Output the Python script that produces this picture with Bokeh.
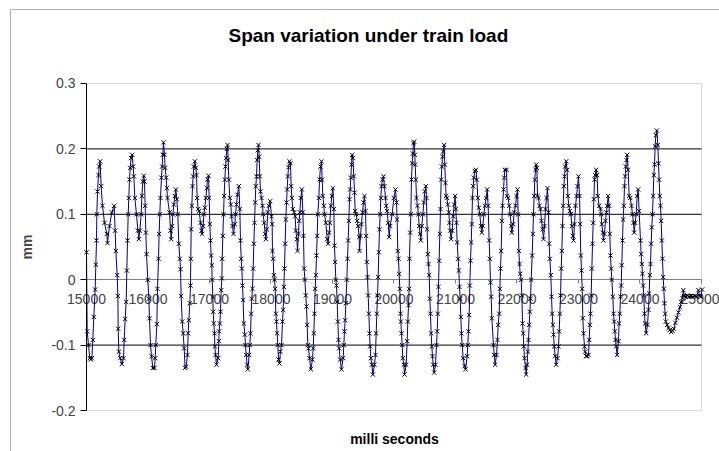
from bokeh.plotting import figure
from bokeh.models import Range1d, FixedTicker, CustomJSTickFormatter, Label, BoxAnnotation, ColumnDataSource
from bokeh.embed import file_html
from bokeh.resources import INLINE

# ---- data (time in ms, span variation in mm) ----
t_a = [15000, 15011, 15033, 15054, 15070, 15087, 15103, 15119, 15141, 15152, 15163, 15168, 15179, 15195, 15206, 15222,
       15238, 15260, 15293, 15331, 15341, 15374, 15412, 15450, 15466, 15477, 15499, 15510, 15515, 15526, 15548, 15575,
       15602, 15613, 15629, 15645, 15656, 15667, 15678, 15688, 15699, 15710, 15726, 15743, 15759, 15770, 15786, 15813,
       15835, 15851, 15867, 15889, 15900, 15916, 15932, 15943, 15954, 15965, 15976, 15997, 16014, 16024, 16041, 16057,
       16079, 16106, 16117, 16127, 16144, 16154, 16171, 16181, 16192, 16203, 16219, 16230, 16241, 16252, 16268, 16279,
       16295, 16306, 16317, 16350, 16366, 16377, 16393, 16404, 16420, 16436, 16453, 16469, 16485, 16501, 16518, 16529,
       16539, 16556, 16572, 16588, 16604]
v_a = [0.042, -0.079, -0.100, -0.120, -0.122, -0.120, -0.092, -0.057, -0.015, 0.023, 0.060, 0.100, 0.135, 0.160, 0.173, 0.181,
       0.143, 0.113, 0.087, 0.070, 0.056, 0.082, 0.103, 0.113, 0.075, 0.044, 0.007, -0.025, -0.075, -0.110, -0.120, -0.129,
       -0.120, -0.092, -0.060, -0.034, 0.014, 0.060, 0.100, 0.125, 0.153, 0.171, 0.186, 0.191, 0.173, 0.158, 0.125, 0.100,
       0.075, 0.062, 0.075, 0.100, 0.128, 0.150, 0.159, 0.150, 0.113, 0.072, 0.039, 0.000, -0.029, -0.059, -0.100, -0.117,
       -0.135, -0.135, -0.120, -0.100, -0.068, -0.014, 0.032, 0.070, 0.100, 0.125, 0.156, 0.173, 0.191, 0.210, 0.191, 0.171,
       0.156, 0.140, 0.125, 0.103, 0.075, 0.062, 0.082, 0.100, 0.115, 0.128, 0.138, 0.123, 0.100, 0.055, 0.032, 0.016,
       -0.025, -0.064, -0.082, -0.105, -0.135]

t_b = [16620, 16642, 16653, 16664, 16680, 16691, 16696, 16702, 16713, 16724, 16734, 16745, 16762, 16778, 16789, 16799,
       16816, 16832, 16854, 16870, 16881, 16897, 16908, 16924, 16940, 16957, 16967, 16984, 16995, 17005, 17016, 17027,
       17038, 17043, 17054, 17060, 17070, 17081, 17087, 17098, 17114, 17141, 17152, 17157, 17168, 17179, 17190, 17201,
       17206, 17217, 17228, 17238, 17249, 17260, 17271, 17282, 17293, 17304, 17314, 17331, 17347, 17358, 17374, 17390,
       17412, 17423, 17439, 17455, 17477, 17493, 17504, 17515, 17526, 17537, 17547, 17558, 17575, 17585, 17596, 17612,
       17623, 17645, 17656, 17667, 17677, 17688, 17699, 17710, 17721, 17732, 17743, 17753, 17764, 17775, 17786, 17797,
       17808, 17818, 17829, 17846, 17862, 17873, 17889, 17905, 17916, 17932, 17948, 17965, 17986, 18008, 18019, 18024,
       18035, 18046, 18057, 18068, 18079, 18089, 18100, 18111, 18122, 18138, 18154, 18171, 18187, 18198, 18209, 18219,
       18230, 18241, 18252, 18263, 18274, 18285]
v_b = [-0.133, -0.115, -0.082, -0.062, -0.036, -0.009, 0.032, 0.077, 0.113, 0.143, 0.158, 0.173, 0.181, 0.171, 0.160, 0.125,
       0.108, 0.105, 0.087, 0.075, 0.070, 0.082, 0.100, 0.110, 0.125, 0.140, 0.153, 0.159, 0.125, 0.085, 0.060, 0.037,
       0.022, 0.000, -0.026, -0.049, -0.067, -0.082, -0.102, -0.115, -0.130, -0.120, -0.094, -0.079, -0.067, -0.049, -0.016, 0.002,
       0.032, 0.067, 0.100, 0.128, 0.153, 0.173, 0.186, 0.200, 0.206, 0.183, 0.153, 0.125, 0.115, 0.097, 0.082, 0.070,
       0.085, 0.100, 0.115, 0.130, 0.143, 0.108, 0.060, 0.032, 0.017, -0.009, -0.031, -0.067, -0.084, -0.100, -0.115, -0.130,
       -0.137, -0.115, -0.100, -0.082, -0.052, -0.029, -0.014, 0.017, 0.055, 0.087, 0.118, 0.143, 0.158, 0.183, 0.198, 0.206,
       0.188, 0.158, 0.135, 0.125, 0.113, 0.100, 0.087, 0.070, 0.062, 0.077, 0.103, 0.113, 0.120, 0.097, 0.085, 0.044,
       0.032, 0.007, 0.000, -0.014, -0.052, -0.064, -0.082, -0.100, -0.122, -0.128, -0.110, -0.100, -0.064, -0.046, -0.011, 0.017,
       0.055, 0.092, 0.118, 0.138, 0.158, 0.172]

t_c = [18301, 18317, 18328, 18339, 18355, 18377, 18393, 18404, 18420, 18431, 18447, 18458, 18469, 18485, 18501, 18518,
       18528, 18539, 18550, 18566, 18577, 18588, 18599, 18610, 18626, 18648, 18675, 18686, 18696, 18707, 18718, 18729,
       18740, 18751, 18761, 18778, 18789, 18805, 18821, 18832, 18843, 18859, 18870, 18892, 18913, 18929, 18946, 18957,
       18973, 18989, 19005, 19022, 19032, 19043, 19054, 19065, 19076, 19087, 19097, 19108, 19125, 19146, 19173, 19184,
       19195, 19206, 19217, 19233, 19244, 19255, 19266, 19276, 19287, 19298, 19309, 19320, 19331, 19347, 19358, 19369,
       19385, 19401, 19417, 19434, 19439, 19455, 19471, 19488, 19504, 19520, 19537, 19547, 19558, 19569, 19580, 19591,
       19602, 19612, 19623, 19639, 19656, 19683, 19699, 19710, 19721, 19732, 19742, 19753, 19764, 19775, 19786, 19797,
       19813, 19829, 19845, 19862, 19873, 19889, 19905, 19921, 19938]
v_c = [0.181, 0.178, 0.143, 0.125, 0.108, 0.103, 0.097, 0.075, 0.062, 0.044, 0.070, 0.090, 0.103, 0.125, 0.138, 0.103,
       0.067, 0.017, 0.000, -0.024, -0.041, -0.069, -0.100, -0.105, -0.120, -0.137, -0.122, -0.105, -0.082, -0.052, -0.014, 0.007,
       0.037, 0.067, 0.100, 0.125, 0.153, 0.173, 0.181, 0.153, 0.128, 0.113, 0.100, 0.087, 0.062, 0.055, 0.072, 0.087,
       0.113, 0.128, 0.140, 0.108, 0.052, 0.027, 0.000, -0.009, -0.034, -0.064, -0.092, -0.105, -0.122, -0.137, -0.120, -0.100,
       -0.079, -0.062, -0.036, 0.000, 0.032, 0.060, 0.090, 0.123, 0.138, 0.156, 0.176, 0.191, 0.186, 0.158, 0.133, 0.105,
       0.100, 0.090, 0.082, 0.065, 0.044, 0.067, 0.085, 0.103, 0.118, 0.128, 0.105, 0.067, 0.027, 0.004, -0.024, -0.052,
       -0.082, -0.102, -0.120, -0.130, -0.145, -0.130, -0.115, -0.082, -0.052, -0.024, 0.004, 0.042, 0.077, 0.100, 0.125, 0.143,
       0.153, 0.158, 0.143, 0.125, 0.113, 0.105, 0.087, 0.065, 0.082]

t_d = [19970, 19997, 20024, 20041, 20051, 20062, 20073, 20084, 20095, 20106, 20111, 20122, 20133, 20144, 20160, 20171,
       20198, 20214, 20225, 20236, 20247, 20252, 20263, 20274, 20284, 20295, 20306, 20317, 20328, 20339, 20344, 20355,
       20366, 20382, 20398, 20409, 20425, 20436, 20452, 20469, 20485, 20501, 20518, 20528, 20539, 20550, 20561, 20572,
       20583, 20593, 20604, 20615, 20626, 20637, 20653, 20675, 20691, 20702, 20713, 20723, 20734, 20745, 20756, 20767,
       20778, 20789, 20799, 20816, 20826, 20837, 20848, 20859, 20875, 20892, 20902, 20913, 20929, 20946, 20962, 20978,
       20994, 21005, 21016, 21027, 21043, 21054, 21065, 21076, 21087, 21097, 21108, 21125, 21146, 21163, 21190, 21200,
       21211, 21222, 21233, 21244, 21255, 21265, 21276, 21287, 21298, 21314, 21331, 21347, 21363, 21379, 21396, 21412,
       21428, 21444, 21461, 21477, 21499, 21515, 21531, 21547, 21558, 21569, 21580, 21591]
v_d = [0.100, 0.125, 0.138, 0.118, 0.092, 0.044, 0.032, 0.009, -0.014, -0.052, -0.064, -0.082, -0.100, -0.120, -0.130, -0.145,
       -0.130, -0.094, -0.064, -0.039, -0.014, 0.032, 0.072, 0.100, 0.153, 0.178, 0.193, 0.209, 0.211, 0.191, 0.176, 0.153,
       0.125, 0.113, 0.100, 0.082, 0.070, 0.060, 0.082, 0.100, 0.118, 0.135, 0.143, 0.125, 0.077, 0.039, 0.024, 0.007,
       -0.029, -0.052, -0.082, -0.102, -0.117, -0.130, -0.142, -0.130, -0.100, -0.079, -0.052, -0.011, 0.029, 0.070, 0.108, 0.153,
       0.173, 0.188, 0.196, 0.206, 0.176, 0.148, 0.128, 0.125, 0.115, 0.103, 0.087, 0.075, 0.062, 0.075, 0.097, 0.115,
       0.128, 0.108, 0.087, 0.057, 0.032, 0.014, -0.011, -0.029, -0.057, -0.082, -0.100, -0.120, -0.132, -0.137, -0.117, -0.100,
       -0.079, -0.054, -0.009, 0.029, 0.057, 0.085, 0.125, 0.143, 0.156, 0.166, 0.168, 0.153, 0.125, 0.110, 0.100, 0.082,
       0.072, 0.082, 0.100, 0.113, 0.125, 0.138, 0.113, 0.060, 0.032, -0.004, -0.026, -0.059]

t_e = [21618, 21629, 21645, 21667, 21683, 21694, 21710, 21721, 21732, 21743, 21754, 21765, 21781, 21792, 21803, 21830,
       21840, 21857, 21873, 21889, 21906, 21916, 21938, 21954, 21976, 21992, 22008, 22019, 22030, 22041, 22052, 22068,
       22079, 22090, 22101, 22111, 22122, 22138, 22149, 22165, 22176, 22187, 22198, 22209, 22220, 22230, 22247, 22258,
       22268, 22279, 22290, 22301, 22312, 22323, 22334, 22350, 22366, 22382, 22398, 22415, 22431, 22447, 22463, 22480,
       22496, 22512, 22523, 22534, 22550, 22561, 22572, 22583, 22594, 22605, 22621, 22637, 22659, 22675, 22686, 22697,
       22708, 22719, 22729, 22740, 22751, 22762, 22773, 22783, 22800, 22816, 22827, 22843, 22859, 22876, 22892, 22908,
       22919, 22935, 22952, 22968, 22984, 23000, 23017, 23027, 23038, 23049, 23060, 23071, 23081, 23098, 23108, 23125,
       23141, 23163, 23174, 23185, 23195, 23206, 23217, 23228, 23239, 23250, 23260]
v_e = [-0.100, -0.115, -0.130, -0.115, -0.092, -0.069, -0.052, -0.014, 0.017, 0.044, 0.090, 0.113, 0.138, 0.156, 0.168, 0.168,
       0.128, 0.125, 0.113, 0.100, 0.082, 0.072, 0.085, 0.103, 0.113, 0.128, 0.138, 0.100, 0.044, 0.024, 0.009, 0.000,
       -0.024, -0.067, -0.082, -0.102, -0.120, -0.135, -0.145, -0.130, -0.110, -0.092, -0.069, -0.049, -0.029, 0.000, 0.037, 0.070,
       0.100, 0.128, 0.153, 0.168, 0.176, 0.171, 0.128, 0.125, 0.113, 0.108, 0.090, 0.077, 0.062, 0.082, 0.108, 0.125,
       0.140, 0.103, 0.055, 0.032, 0.007, -0.026, -0.052, -0.069, -0.084, -0.102, -0.117, -0.130, -0.120, -0.102, -0.079, -0.052,
       -0.024, 0.017, 0.044, 0.082, 0.113, 0.143, 0.158, 0.173, 0.181, 0.168, 0.128, 0.113, 0.105, 0.100, 0.082, 0.067,
       0.060, 0.085, 0.113, 0.128, 0.143, 0.158, 0.128, 0.085, 0.037, 0.014, -0.014, -0.059, -0.082, -0.102, -0.110, -0.117,
       -0.117, -0.115, -0.092, -0.069, -0.052, -0.024, 0.017, 0.055, 0.087, 0.123, 0.153]

t_f = [23271, 23287, 23303, 23314, 23336, 23358, 23368, 23379, 23396, 23406, 23423, 23439, 23455, 23466, 23482, 23498,
       23509, 23520, 23531, 23542, 23558, 23569, 23580, 23591, 23601, 23612, 23629, 23650, 23661, 23672, 23683, 23694,
       23704, 23715, 23726, 23737, 23748, 23759, 23769, 23780, 23791, 23807, 23824, 23840, 23862, 23878, 23894, 23905,
       23921, 23938, 23954, 23970, 23986, 24008, 24019, 24030, 24040, 24051, 24062, 24073, 24084, 24100, 24122, 24138,
       24149, 24160, 24171, 24181, 24192, 24203, 24214, 24225, 24236, 24246, 24257, 24274, 24290, 24301, 24311, 24322,
       24333, 24344, 24355, 24366, 24377, 24387, 24398, 24409, 24420, 24442, 24463, 24485, 24507, 24528, 24550, 24575,
       24600, 24625, 24650, 24670, 24690, 24705, 24720, 24745, 24770, 24800, 24830, 24860, 24890, 24920, 24950, 24970,
       24990, 25010]
v_f = [0.160, 0.168, 0.160, 0.128, 0.113, 0.108, 0.100, 0.085, 0.072, 0.060, 0.070, 0.090, 0.103, 0.113, 0.128, 0.113,
       0.070, 0.037, 0.017, 0.000, -0.026, -0.052, -0.064, -0.079, -0.092, -0.102, -0.115, -0.094, -0.067, -0.052, -0.026, -0.009,
       0.022, 0.060, 0.092, 0.113, 0.143, 0.158, 0.173, 0.183, 0.191, 0.168, 0.128, 0.125, 0.113, 0.100, 0.087, 0.072,
       0.087, 0.100, 0.128, 0.138, 0.105, 0.060, 0.039, 0.024, 0.009, -0.009, -0.024, -0.052, -0.067, -0.082, -0.069, -0.046,
       -0.021, 0.007, 0.024, 0.055, 0.080, 0.100, 0.128, 0.160, 0.176, 0.204, 0.221, 0.228, 0.206, 0.178, 0.153, 0.128,
       0.113, 0.090, 0.060, 0.032, 0.004, -0.014, -0.036, -0.052, -0.064, -0.069, -0.074, -0.077, -0.080, -0.078, -0.075, -0.066,
       -0.058, -0.050, -0.042, -0.034, -0.028, -0.016, -0.025, -0.026, -0.024, -0.026, -0.025, -0.026, -0.025, -0.026, -0.016, -0.025,
       -0.026, -0.015]

x_ticks = [15000, 16000, 17000, 18000, 19000, 20000, 21000, 22000, 23000, 24000, 25000]
y_ticks = [-0.2, -0.1, 0.0, 0.1, 0.2, 0.3]
x_lo, x_hi = 15000, 25000
y_lo, y_hi = -0.2, 0.3

time_ms = t_a + t_b + t_c + t_d + t_e + t_f
span_mm = v_a + v_b + v_c + v_d + v_e + v_f
src = ColumnDataSource(data=dict(t=time_ms, v=span_mm))

# inner grid lines (the outer ones are the plot-area border, 0 is the x axis)
grid_y = [y for y in y_ticks if y_lo < y < y_hi and y != 0]
grid_src = ColumnDataSource(data=dict(y=grid_y, x0=[x_lo] * len(grid_y), x1=[x_hi] * len(grid_y)))

FONT = "Liberation Sans"
W, H = 719, 451

# frame covers the whole canvas; ranges chosen so the plot area sits at x 86..701, y 83..410
p = figure(width=W, height=H, output_backend="svg", toolbar_location=None,
           x_range=Range1d(13601.63, 25292.69), y_range=Range1d(-0.26269, 0.42691),
           min_border_left=0, min_border_right=0, min_border_top=0, min_border_bottom=0,
           background_fill_color="white", border_fill_color="white")
p.title.visible = False
p.outline_line_color = None
p.xgrid.visible = False
p.ygrid.visible = False

# plot-area border (grey)
p.add_layout(BoxAnnotation(left=x_lo, right=x_hi, bottom=y_lo, top=y_hi, fill_alpha=0,
                           line_color="#808080", line_width=1, level="underlay"))
# chart-area border (left and top edges visible)
p.add_layout(BoxAnnotation(left=10, right=W + 40, top=H - 9, bottom=-40,
                           left_units="screen", right_units="screen", top_units="screen", bottom_units="screen",
                           fill_alpha=0, line_color="black", line_width=1))

p.segment(x0="x0", x1="x1", y0="y", y1="y", source=grid_src, line_color="black", line_width=1)

xa = p.xaxis[0]
xa.fixed_location = 0
xa.bounds = (x_lo, x_hi)
xa.level = "underlay"
xa.ticker = FixedTicker(ticks=x_ticks)
xa.formatter = CustomJSTickFormatter(code="return tick.toFixed(0);")
xa.axis_line_color = "#808080"
xa.major_tick_line_color = "#808080"
xa.major_tick_out = 4
xa.major_tick_in = 0
xa.minor_tick_line_color = None
xa.major_label_text_font = FONT
xa.major_label_text_font_size = "14px"
xa.major_label_standoff = 10

ya = p.yaxis[0]
ya.fixed_location = x_lo
ya.bounds = (y_lo, y_hi)
ya.ticker = FixedTicker(ticks=y_ticks)
ya.formatter = CustomJSTickFormatter(code="const s = tick.toFixed(1); return (s === '0.0' || s === '-0.0') ? '0' : s;")
ya.axis_line_color = "black"
ya.major_tick_line_color = "black"
ya.major_tick_out = 6
ya.major_tick_in = 0
ya.minor_tick_line_color = None
ya.major_label_text_font = FONT
ya.major_label_text_font_size = "14px"
ya.major_label_standoff = 5
ya.axis_label = "mm"
ya.axis_label_text_font = FONT
ya.axis_label_text_font_size = "14px"
ya.axis_label_text_font_style = "bold"
ya.axis_label_standoff = 13

p.add_layout(Label(x=228, y=H - 35, x_units="screen", y_units="screen", text="Span variation under train load",
                   text_align="left", text_baseline="alphabetic", text_font=FONT, text_font_size="19px",
                   text_font_style="bold", text_color="black"))
p.add_layout(Label(x=394, y=H - 438, x_units="screen", y_units="screen", text="milli seconds",
                   text_align="center", text_baseline="alphabetic", text_font=FONT, text_font_size="14px",
                   text_font_style="bold", text_color="black"))

p.line("t", "v", source=src, line_color="#000080", line_width=1)
p.scatter("t", "v", source=src, marker="x", size=6, line_color="black", line_width=1)

open("out.html", "w").write(file_html(p, INLINE))
